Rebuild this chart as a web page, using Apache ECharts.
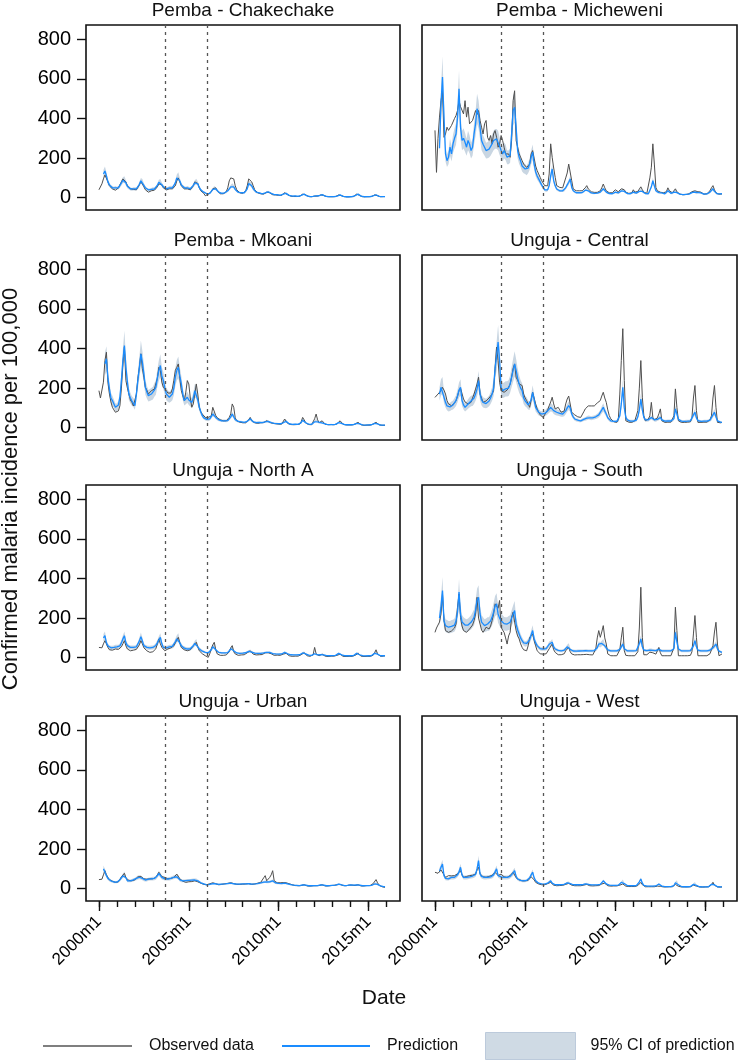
<!DOCTYPE html>
<html>
<head>
<meta charset="utf-8">
<script src="https://cdn.jsdelivr.net/npm/echarts@6/dist/echarts.min.js"></script>
<style>
html,body{margin:0;padding:0;background:#ffffff;}
#chart{width:741px;height:1061px;}
</style>
</head>
<body>
<div id="chart"></div>
<script>
// ---------------- DATA ----------------
const panelTitles = ['Pemba - Chakechake','Pemba - Micheweni','Pemba - Mkoani','Unguja - Central',
                     'Unguja - North A','Unguja - South','Unguja - Urban','Unguja - West'];
const firstYear = 2000;            // series are monthly, 2000m1 .. 2015m12
const xTickValues = [2000, 2005, 2010, 2015];
const xTickLabels = ['2000m1', '2005m1', '2010m1', '2015m1'];
const xMinorTickValues = [2000,2001,2002,2003,2004,2005,2006,2007,2008,2009,2010,2011,2012,2013,2014,2015,2016];
const yTickValues = [0, 200, 400, 600, 800];
const yTickLabels = ['0', '200', '400', '600', '800'];
const interventionDates = [2003.7, 2006.0];
const legendLabels = ['Observed data', 'Prediction', '95% CI of prediction'];
const yAxisTitle = 'Confirmed malaria incidence per 100,000';
const xAxisTitle = 'Date';
const _ = null;

// Pemba - Chakechake
const obs1 = [
40,50,70,95,115,105,80,60,50,45,40,38,
45,50,60,80,95,100,80,60,50,45,40,42,
42,40,48,65,82,78,55,40,30,28,30,35,
40,38,45,55,70,75,65,50,45,40,42,45,
50,45,48,60,85,100,80,60,50,45,42,45,
42,40,45,60,80,90,72,50,35,28,22,10,
15,18,20,30,45,55,50,35,25,20,18,20,
25,30,50,85,100,105,95,60,40,30,25,25,
22,25,35,60,95,85,80,60,40,30,25,22,
20,18,18,22,28,30,25,20,15,14,14,15,
12,10,12,18,25,22,15,10,8,7,6,8,
6,6,7,12,18,20,14,8,6,5,5,6,
8,10,8,10,14,18,12,8,6,5,5,6,
5,5,6,8,14,15,10,6,5,4,4,5,
5,5,6,10,18,20,12,7,5,5,5,5,
5,5,6,9,14,16,10,6,5,5,6,6];
const pred1 = [
_,_,_,120,135,110,80,65,55,50,48,50,
48,50,60,75,88,92,75,58,50,45,42,45,
45,45,52,68,85,80,62,50,42,40,40,42,
45,44,50,62,78,80,66,55,48,45,46,50,
52,50,55,75,100,110,85,65,55,50,48,50,
48,45,50,62,75,82,70,52,40,32,28,25,
20,20,22,30,42,50,45,35,28,24,22,22,
25,28,35,45,55,62,55,42,32,28,25,25,
25,25,30,45,72,70,60,45,35,28,25,24,
22,20,20,24,28,30,26,22,18,16,15,16,
14,12,14,18,24,22,16,12,10,8,8,9,
8,7,8,12,16,18,14,9,7,6,6,7,
8,9,8,10,13,16,12,8,6,6,6,6,
6,6,6,8,12,14,10,7,6,5,5,5,
6,6,6,10,16,18,12,8,6,5,5,6,
6,6,6,9,13,15,10,7,6,6,6,6];
const ci1 = [
_,_,_,20,23,19,14,11,9,9,8,9,
8,9,10,13,15,16,13,10,9,8,7,8,
8,8,9,12,14,14,11,9,7,7,7,7,
8,7,9,11,13,14,11,9,8,8,8,9,
9,9,9,13,17,19,14,11,9,9,8,9,
8,8,9,11,13,14,12,9,7,5,5,4,
4,4,4,5,7,9,8,6,5,4,4,4,
4,5,6,8,9,11,9,7,5,5,4,4,
4,4,5,8,12,12,10,8,6,5,4,4,
4,3,3,4,5,5,4,4,3,3,3,3,
3,3,3,3,4,4,3,3,3,3,3,3,
3,3,3,3,3,3,3,3,3,3,3,3,
3,3,3,3,3,3,3,3,3,3,3,3,
3,3,3,3,3,3,3,3,3,3,3,3,
3,3,3,3,3,3,3,3,3,3,3,3,
3,3,3,3,3,3,3,3,3,3,3,3];

// Pemba - Micheweni
const obs2 = [
340,128,300,407,490,540,305,322,356,340,330,365,
365,400,415,440,490,460,457,423,490,407,457,373,
381,390,400,440,420,440,390,356,322,373,390,305,
289,314,272,322,339,305,255,272,314,289,255,221,
230,221,204,289,490,540,289,255,221,204,187,170,
170,153,150,170,221,238,200,160,137,120,103,86,
78,61,52,60,120,272,204,150,103,61,55,52,
52,50,55,100,125,170,179,86,44,38,35,35,
35,32,35,40,50,61,45,35,30,28,27,28,
27,30,35,50,69,50,35,28,25,24,25,27,
40,30,30,35,45,55,40,28,25,22,22,25,
40,28,28,32,40,55,40,28,25,22,24,100,
154,272,170,52,35,30,28,30,25,22,30,50,
35,25,25,35,45,30,22,18,16,15,15,16,
18,20,25,30,40,35,25,30,40,28,20,18,
18,20,25,35,50,61,40,25,20,18,20,19];
const pred2 = [
_,_,_,250,474,609,407,221,187,204,255,221,
272,300,322,407,550,356,289,300,280,255,289,270,
238,255,322,373,449,420,356,289,270,255,238,240,
245,255,272,289,297,297,289,260,240,221,238,230,
204,204,213,322,440,457,356,238,205,185,160,150,
145,137,150,170,204,230,170,130,110,95,80,65,
52,40,35,40,61,110,145,86,60,44,38,35,
35,35,38,50,65,78,95,52,35,27,25,25,
25,24,26,30,38,45,35,27,24,22,22,23,
23,24,28,35,45,38,28,23,21,20,20,22,
28,24,24,28,35,42,32,24,21,20,20,21,
28,23,23,26,32,40,32,24,21,20,20,30,
55,86,60,35,28,26,24,24,22,20,24,35,
30,22,22,28,36,26,20,18,17,16,16,17,
17,18,22,26,32,28,22,26,30,24,19,18,
18,19,22,28,38,45,32,22,19,18,19,20];
const ci2 = [
_,_,_,43,81,105,70,38,32,35,43,38,
46,51,55,69,94,61,49,51,48,43,49,46,
40,43,55,63,76,71,61,49,46,43,40,41,
42,43,46,49,50,50,49,44,41,38,40,39,
35,35,36,55,75,78,61,40,35,31,27,26,
25,23,26,29,35,39,29,22,19,16,14,11,
9,7,6,7,10,19,25,15,10,7,6,6,
6,6,6,9,11,13,16,9,6,5,4,4,
4,4,4,5,6,8,6,5,4,4,4,4,
4,4,5,6,8,6,5,4,4,3,3,4,
5,4,4,5,6,7,5,4,4,3,3,4,
5,4,4,4,5,7,5,4,4,3,3,5,
9,15,10,6,5,4,4,4,4,3,4,6,
5,4,4,5,6,4,3,3,3,3,3,3,
3,3,4,4,5,5,4,4,5,4,3,3,
3,3,4,5,6,8,5,4,3,3,3,3];

// Pemba - Mkoani
const obs3 = [
187,150,140,230,340,381,230,170,130,103,90,78,
80,85,111,200,322,407,238,200,170,140,128,110,
103,170,250,305,373,300,255,204,190,170,175,187,
187,195,204,250,305,289,230,204,195,187,175,170,
175,196,240,290,305,322,250,187,160,137,180,238,
221,150,103,120,170,221,170,103,80,69,60,52,
52,52,55,60,103,111,61,50,44,40,35,35,
35,35,38,52,70,120,103,50,35,30,28,25,
25,22,25,30,40,52,35,27,25,22,22,24,
25,24,26,30,35,30,27,25,22,20,20,18,
18,17,18,25,44,35,22,18,16,15,15,16,
16,15,18,30,52,40,25,18,16,15,15,20,
45,69,40,25,30,35,25,18,16,15,15,16,
15,15,16,20,30,35,25,18,15,14,14,14,
14,14,15,18,25,27,20,15,13,12,12,13,
13,13,14,18,24,27,20,15,12,12,12,12];
const pred3 = [
_,_,_,_,322,348,250,196,150,137,120,103,
103,115,154,240,339,415,305,230,170,150,135,128,
111,170,240,305,373,330,272,204,180,162,165,170,
175,190,204,250,289,314,260,238,200,170,160,154,
160,170,200,255,290,305,260,221,170,137,145,154,
140,130,128,150,187,179,140,103,80,61,50,44,
42,40,45,55,69,65,52,45,40,38,35,35,
35,34,36,45,55,69,55,40,35,32,30,30,
28,27,28,32,40,45,35,30,28,26,26,27,
27,26,27,30,34,32,28,26,24,22,22,21,
20,20,21,25,35,32,24,20,18,17,17,18,
18,17,19,26,38,34,25,20,18,17,17,20,
30,40,30,24,26,28,22,18,17,16,16,17,
16,16,17,20,26,28,22,18,16,15,15,15,
15,15,16,18,22,24,19,16,14,13,13,14,
14,14,15,18,22,24,19,15,13,13,13,13];
const ci3 = [
_,_,_,_,58,63,45,35,27,25,22,19,
19,21,28,43,61,75,55,41,31,27,24,23,
20,31,43,55,67,59,49,37,32,29,30,31,
32,34,37,45,52,57,47,43,36,31,29,28,
29,31,36,46,52,55,47,40,31,25,26,28,
25,23,23,27,34,32,25,19,14,11,9,8,
8,7,8,10,12,12,9,8,7,7,6,6,
6,6,6,8,10,12,10,7,6,6,5,5,
5,5,5,6,7,8,6,5,5,5,5,5,
5,5,5,5,6,6,5,5,4,4,4,4,
4,4,4,4,6,6,4,4,3,3,3,3,
3,3,3,5,7,6,4,4,3,3,3,4,
5,7,5,4,5,5,4,3,3,3,3,3,
3,3,3,4,5,5,4,3,3,3,3,3,
3,3,3,3,4,4,3,3,3,3,3,3,
3,3,3,3,4,4,3,3,3,3,3,3];

// Unguja - Central
const obs4 = [
153,160,170,162,187,204,190,170,137,120,115,111,
115,125,137,160,187,200,204,145,130,120,120,128,
128,150,170,195,221,255,170,150,128,130,135,137,
150,154,170,187,300,407,339,230,187,180,179,185,
190,196,220,255,300,322,255,240,221,215,213,170,
150,137,120,103,140,179,150,120,95,78,65,55,
52,60,78,90,111,130,154,120,95,100,103,90,
78,72,85,120,145,160,170,78,70,65,61,55,
52,52,60,80,95,103,110,120,110,103,110,120,
125,130,137,160,179,150,128,90,61,45,35,30,
28,27,40,170,340,500,238,35,30,28,27,27,
30,35,45,86,200,339,154,60,35,40,44,60,
128,52,40,35,50,70,95,35,28,27,27,28,
28,28,30,60,196,103,35,28,27,27,27,28,
28,28,30,50,150,213,86,27,27,27,27,28,
28,28,30,40,60,150,213,103,27,27,25,27];
const pred4 = [
_,_,_,170,204,213,154,128,110,103,105,111,
115,125,137,160,190,204,137,115,103,110,120,128,
135,137,150,170,196,238,170,140,128,125,122,128,
135,150,170,200,300,360,432,339,204,187,190,196,
196,200,220,255,290,322,289,250,221,200,187,150,
135,128,115,111,140,179,140,103,90,78,72,69,
69,72,78,85,95,103,100,86,80,78,75,72,
70,69,72,85,100,111,100,69,55,44,40,38,
35,35,38,42,44,48,52,50,48,50,52,55,
58,65,75,90,103,85,69,50,40,35,33,32,
32,32,35,60,120,204,100,52,40,35,33,33,
33,34,38,55,90,145,90,52,40,38,40,45,
52,45,40,38,42,48,52,40,35,33,33,34,
34,34,36,45,95,70,42,35,33,32,32,33,
33,33,35,42,65,78,50,36,33,32,32,33,
33,33,34,38,45,65,78,55,35,30,28,27];
const ci4 = [
_,_,_,34,41,43,31,26,22,21,21,22,
23,25,27,32,38,41,27,23,21,22,24,26,
27,27,30,34,39,48,34,28,26,25,24,26,
27,30,34,40,60,72,86,68,41,37,38,39,
39,40,44,51,58,64,58,50,44,40,37,30,
27,26,23,22,28,36,28,21,18,16,14,14,
14,14,16,17,19,21,20,17,16,16,15,14,
14,14,14,17,20,22,20,14,11,9,8,8,
7,7,8,8,9,10,10,10,10,10,10,11,
12,13,15,18,21,17,14,10,8,7,7,6,
6,6,7,12,24,41,20,10,8,7,7,7,
7,7,8,11,18,29,18,10,8,8,8,9,
10,9,8,8,8,10,10,8,7,7,7,7,
7,7,7,9,19,14,8,7,7,6,6,7,
7,7,7,8,13,16,10,7,7,6,6,7,
7,7,7,8,9,13,16,11,7,6,6,5];

// Unguja - North A
const obs5 = [
52,44,50,70,86,70,52,40,35,38,40,44,
44,42,45,55,70,86,60,44,40,35,35,38,
40,42,50,65,86,70,50,44,35,30,27,30,
30,35,45,70,95,70,52,45,35,40,44,50,
50,52,60,75,90,103,75,52,45,40,35,35,
36,40,45,60,70,78,55,35,28,20,15,10,
8,2,20,45,65,78,40,19,15,12,10,12,
12,14,18,30,50,61,30,19,15,12,12,14,
14,15,18,25,30,35,25,18,15,14,14,15,
15,16,20,25,27,25,27,20,15,12,12,13,
12,12,14,18,27,22,15,10,8,7,7,8,
8,8,10,15,22,25,15,10,8,7,8,15,
52,20,12,10,14,18,12,8,7,6,7,8,
8,8,9,12,22,18,10,7,6,6,6,7,
7,7,8,12,20,22,12,8,6,6,6,7,
7,7,8,12,25,40,20,10,7,6,8,10];
const pred5 = [
_,_,_,100,111,75,60,52,50,50,52,55,
55,55,60,75,95,111,75,61,55,52,52,52,
52,55,65,85,106,85,61,55,52,50,50,52,
52,55,62,75,90,103,70,52,52,50,52,55,
55,57,65,80,95,103,75,61,52,48,45,44,
44,45,50,60,72,78,55,44,38,33,30,27,
25,25,30,40,55,61,40,30,27,25,24,24,
24,24,26,32,45,52,35,27,24,22,22,23,
23,23,25,28,32,35,28,25,23,22,22,22,
22,22,24,26,27,27,27,24,21,20,19,19,
18,18,19,22,27,24,20,17,15,14,14,14,
14,14,15,18,24,26,19,15,13,12,12,14,
20,16,14,13,15,18,14,12,11,10,10,11,
11,11,12,14,22,20,14,11,10,10,10,10,
10,10,11,14,22,24,15,11,10,9,9,10,
10,10,11,14,22,30,18,12,10,9,10,10];
const ci5 = [
_,_,_,20,22,15,12,10,10,10,10,11,
11,11,12,15,19,22,15,12,11,10,10,10,
10,11,13,17,21,17,12,11,10,10,10,10,
10,11,12,15,18,21,14,10,10,10,10,11,
11,11,13,16,19,21,15,12,10,10,9,9,
9,9,10,12,14,16,11,9,8,7,6,5,
5,5,6,8,11,12,8,6,5,5,5,5,
5,5,5,6,9,10,7,5,5,4,4,5,
5,5,5,6,6,7,6,5,5,4,4,4,
4,4,5,5,5,5,5,5,4,4,4,4,
4,4,4,4,5,5,4,3,3,3,3,3,
3,3,3,4,5,5,4,3,3,3,3,3,
4,3,3,3,3,4,3,3,3,3,3,3,
3,3,3,3,4,4,3,3,3,3,3,3,
3,3,3,3,4,5,3,3,3,3,3,3,
3,3,3,3,4,6,4,3,3,3,3,3];

// Unguja - South
const obs6 = [
128,150,165,180,221,322,187,137,130,128,130,135,
137,150,170,255,322,204,160,137,130,128,135,145,
154,165,187,220,305,200,170,140,128,140,154,150,
145,160,187,220,272,272,250,289,154,140,128,100,
69,110,128,204,230,180,137,110,95,70,52,40,
35,35,60,103,110,120,86,60,35,25,20,19,
18,19,20,30,45,55,69,40,27,20,15,15,
15,16,20,35,45,52,30,19,15,14,14,15,
15,15,15,16,18,17,15,15,14,14,15,44,
100,137,103,130,162,100,69,19,12,10,10,10,
10,10,12,40,100,154,35,12,10,10,10,10,
10,10,12,30,150,356,103,15,10,15,20,28,
35,25,15,18,35,52,25,10,10,10,10,10,
10,10,12,50,255,137,10,10,10,10,10,10,
10,10,12,30,120,213,103,10,10,10,10,10,
10,10,12,20,25,60,130,179,69,10,10,19];
const pred6 = [
_,_,_,200,255,339,187,162,158,154,155,158,
160,165,185,230,331,221,180,170,165,162,165,172,
179,190,204,240,290,305,221,180,170,162,165,170,
170,185,204,230,260,272,221,200,187,180,172,170,
170,175,179,200,220,238,170,140,120,100,86,75,
69,72,80,90,115,137,95,75,61,52,46,44,
44,44,46,55,68,70,78,55,44,40,37,35,
35,35,38,45,55,61,42,35,34,33,33,34,
34,34,35,35,36,36,35,35,35,35,36,39,
50,69,65,72,78,60,52,40,36,35,35,35,
35,35,36,42,55,69,45,36,35,35,35,35,
35,35,36,45,70,95,55,39,36,36,37,38,
38,37,36,36,38,42,37,35,35,35,35,35,
35,35,36,45,128,80,44,37,35,35,35,35,
35,35,36,42,60,86,55,38,35,35,35,35,
35,35,35,38,45,50,58,69,45,33,30,27];
const ci6 = [
_,_,_,40,51,68,37,32,32,31,31,32,
32,33,37,46,66,44,36,34,33,32,33,34,
36,38,41,48,58,61,44,36,34,32,33,34,
34,37,41,46,52,54,44,40,37,36,34,34,
34,35,36,40,44,48,34,28,24,20,17,15,
14,14,16,18,23,27,19,15,12,10,9,9,
9,9,9,11,14,14,16,11,9,8,7,7,
7,7,8,9,11,12,8,7,7,7,7,7,
7,7,7,7,7,7,7,7,7,7,7,8,
10,14,13,14,16,12,10,8,7,7,7,7,
7,7,7,8,11,14,9,7,7,7,7,7,
7,7,7,9,14,19,11,8,7,7,7,8,
8,7,7,7,8,8,7,7,7,7,7,7,
7,7,7,9,26,16,9,7,7,7,7,7,
7,7,7,8,12,17,11,8,7,7,7,7,
7,7,7,8,9,10,12,14,9,7,6,5];

// Unguja - Urban
const obs7 = [
46,46,48,70,91,70,57,45,40,38,35,32,
32,35,45,60,70,78,55,49,42,40,40,42,
45,50,60,66,62,57,50,44,48,54,50,49,
50,55,57,70,83,75,61,58,57,55,50,49,
52,55,57,65,74,65,50,44,38,32,32,35,
35,35,36,38,40,40,35,32,28,25,22,20,
20,22,25,28,30,29,25,22,20,20,22,24,
25,26,27,29,30,29,26,24,22,22,22,23,
23,23,24,25,26,24,22,22,24,26,28,30,
32,40,55,66,40,45,57,70,91,40,32,30,
30,30,30,31,32,30,27,25,22,20,18,16,
16,15,15,16,18,20,16,14,13,13,14,15,
15,15,15,16,18,20,16,14,14,14,15,16,
16,17,18,20,24,22,18,16,15,15,16,18,
20,18,17,16,18,20,16,14,14,14,15,16,
16,16,18,25,35,46,30,18,12,10,8,7];
const pred7 = [
_,_,_,100,85,66,52,45,40,36,34,32,
33,36,45,55,65,74,55,40,40,40,42,45,
48,52,57,58,57,52,46,44,45,48,49,50,
51,52,54,65,78,68,57,53,50,49,49,50,
52,55,58,61,60,57,45,40,40,40,41,42,
42,42,43,44,44,44,40,35,30,27,24,21,
20,21,22,24,26,27,25,23,22,22,23,24,
24,25,26,27,28,27,25,24,23,23,23,24,
24,24,24,25,25,24,23,23,24,25,26,28,
29,31,33,36,34,33,35,38,40,33,29,27,
27,26,26,27,28,27,25,23,21,19,18,17,
17,16,16,17,19,20,18,16,15,15,15,16,
16,16,16,17,19,20,18,16,15,15,16,17,
17,17,18,20,23,22,19,17,16,16,17,18,
19,18,18,18,19,20,18,16,15,15,16,16,
16,16,17,20,24,28,22,17,14,12,11,10];
const ci7 = [
_,_,_,17,14,11,9,8,7,6,6,5,
6,6,8,9,11,13,9,7,7,7,7,8,
8,9,10,10,10,9,8,7,8,8,8,9,
9,9,9,11,13,12,10,9,9,8,8,9,
9,9,10,10,10,10,8,7,7,7,7,7,
7,7,7,7,7,7,7,6,5,5,4,4,
4,4,4,4,4,5,4,4,4,4,4,4,
4,4,4,5,5,5,4,4,4,4,4,4,
4,4,4,4,4,4,4,4,4,4,4,5,
5,5,6,6,6,6,6,6,7,6,5,5,
5,4,4,5,5,5,4,4,4,3,3,3,
3,3,3,3,3,3,3,3,3,3,3,3,
3,3,3,3,3,3,3,3,3,3,3,3,
3,3,3,3,4,4,3,3,3,3,3,3,
3,3,3,3,3,3,3,3,3,3,3,3,
3,3,3,3,4,5,4,3,3,3,3,3];

// Unguja - West
const obs8 = [
83,80,78,85,95,100,70,57,60,66,66,65,
66,66,68,75,85,91,70,57,60,62,66,66,
66,68,70,74,95,108,75,66,60,57,58,60,
62,66,68,75,83,80,66,68,74,66,60,57,
57,60,66,75,83,75,55,49,45,42,40,40,
40,40,42,50,60,66,45,32,28,24,22,20,
20,20,22,26,30,32,25,18,15,15,15,16,
16,17,18,22,26,27,22,18,15,15,15,15,
15,15,16,18,20,22,18,15,14,14,15,15,
15,16,18,24,32,28,20,15,14,13,13,14,
14,14,15,18,22,24,18,13,12,11,11,11,
11,11,12,16,25,32,20,12,10,10,10,10,
10,10,10,11,13,15,12,10,9,9,9,10,
10,10,10,12,22,18,12,10,9,9,9,9,
9,9,10,12,18,20,13,10,9,8,8,9,
9,9,10,12,20,32,18,11,9,8,8,9];
const pred8 = [
_,_,_,90,108,125,66,52,49,50,54,57,
57,58,62,70,85,108,70,57,57,57,58,60,
62,64,66,72,100,142,74,62,58,57,57,58,
58,60,62,70,85,100,66,62,60,57,57,57,
57,58,62,70,80,91,62,49,45,42,40,40,
40,42,45,55,70,83,55,40,33,28,25,24,
23,23,24,28,34,40,28,22,20,20,20,20,
20,21,22,25,30,32,26,22,20,20,20,20,
20,20,20,22,24,26,22,20,19,19,19,19,
19,20,22,28,40,32,24,20,18,17,17,17,
17,17,18,22,32,40,26,18,16,15,15,15,
15,15,16,22,35,49,28,17,14,13,13,13,
13,13,13,14,18,24,17,13,12,11,11,11,
11,11,12,16,30,37,20,13,11,10,10,10,
10,10,11,14,22,29,17,12,10,9,9,9,
9,9,10,13,22,32,20,12,10,9,9,9];
const ci8 = [
_,_,_,15,18,21,11,9,8,9,9,10,
10,10,11,12,14,18,12,10,10,10,10,10,
11,11,11,12,17,24,13,11,10,10,10,10,
10,10,11,12,14,17,11,11,10,10,10,10,
10,10,11,12,14,15,11,8,8,7,7,7,
7,7,8,9,12,14,9,7,6,5,4,4,
4,4,4,5,6,7,5,4,3,3,3,3,
3,4,4,4,5,5,4,4,3,3,3,3,
3,3,3,4,4,4,4,3,3,3,3,3,
3,3,4,5,7,5,4,3,3,3,3,3,
3,3,3,4,5,7,4,3,3,3,3,3,
3,3,3,4,6,8,5,3,3,3,3,3,
3,3,3,3,3,4,3,3,3,3,3,3,
3,3,3,3,5,6,3,3,3,3,3,3,
3,3,3,3,4,5,3,3,3,3,3,3,
3,3,3,3,4,5,3,3,3,3,3,3];

const observedSeries = [obs1, obs2, obs3, obs4, obs5, obs6, obs7, obs8];
const predictedSeries = [pred1, pred2, pred3, pred4, pred5, pred6, pred7, pred8];
const ciHalfWidth = [ci1, ci2, ci3, ci4, ci5, ci6, ci7, ci8];

// ---------------- LAYOUT / STYLE ----------------
const FONT = "'Liberation Sans', Arial, Helvetica, sans-serif";
const COL_LEFT = [86, 422], COL_WIDTH = [314, 315];
const ROW_TOP = [25, 255, 485, 716], PANEL_H = 185;
const Y_MIN = -62, Y_MAX = 872, X_MIN = 1999.28, X_MAX = 2016.75;
const OBS_COLOR = '#4f4f4f', PRED_COLOR = '#1a8cff', CI_COLOR = '#c9d6e2';

[observedSeries, predictedSeries, ciHalfWidth].forEach((group, g) => group.forEach((a, k) => {
  if (a.length !== 192) throw new Error('array ' + g + '/' + k + ' has length ' + a.length);
}));

const monthX = i => firstYear + i / 12;

const grids = [], xAxes = [], yAxes = [], series = [], graphics = [];
for (let p = 0; p < 8; p++) {
  const row = Math.floor(p / 2), col = p % 2;
  const bottomRow = row === 3, leftCol = col === 0;
  grids.push({
    left: COL_LEFT[col], top: ROW_TOP[row], width: COL_WIDTH[col], height: PANEL_H,
    show: true, borderColor: '#111', borderWidth: 1.6, backgroundColor: 'transparent',
    containLabel: false, outerBoundsMode: 'none'
  });
  xAxes.push({
    gridIndex: p, type: 'value', min: X_MIN, max: X_MAX, position: 'bottom',
    axisLine: { show: false, onZero: false }, splitLine: { show: false },
    axisTick: bottomRow ? { show: true, customValues: xTickValues, length: 10, lineStyle: { color: '#111', width: 1.4 } } : { show: false },
    axisLabel: bottomRow ? {
      show: true, customValues: xTickValues, rotate: 45, margin: 18,
      fontSize: 17, fontFamily: FONT, color: '#000',
      formatter: v => xTickLabels[xTickValues.indexOf(Math.round(v))] || ''
    } : { show: false }
  });
  yAxes.push({
    gridIndex: p, type: 'value', min: Y_MIN, max: Y_MAX,
    axisLine: { show: false, onZero: false }, splitLine: { show: false },
    axisTick: leftCol ? { show: true, customValues: yTickValues, length: 9, lineStyle: { color: '#111', width: 1.4 } } : { show: false },
    axisLabel: leftCol ? {
      show: true, customValues: yTickValues, margin: 15, fontSize: 20, fontFamily: FONT, color: '#000',
      formatter: v => yTickLabels[yTickValues.indexOf(Math.round(v))] || ''
    } : { show: false }
  });

  const obs = observedSeries[p], pred = predictedSeries[p], ci = ciHalfWidth[p];
  const firstValid = pred.findIndex(v => v != null);
  // 95% CI band: one polygon through the library's coordinate mapping
  series.push({
    type: 'custom', name: legendLabels[2], coordinateSystem: 'cartesian2d',
    xAxisIndex: p, yAxisIndex: p, silent: true, z: 1,
    color: CI_COLOR, itemStyle: { color: CI_COLOR },
    data: pred.map((v, i) => [monthX(i), v == null ? null : v - ci[i], v == null ? null : v + ci[i]]),
    encode: { x: 0, y: [1, 2] },
    renderItem: function (params, api) {
      if (params.dataIndex !== firstValid) return null;
      const upper = [], lower = [];
      for (let i = firstValid; i < pred.length; i++) {
        if (pred[i] == null) continue;
        upper.push(api.coord([monthX(i), pred[i] + ci[i]]));
        lower.push(api.coord([monthX(i), pred[i] - ci[i]]));
      }
      return {
        type: 'polygon',
        shape: { points: upper.concat(lower.reverse()) },
        style: { fill: CI_COLOR, stroke: null }
      };
    }
  });
  series.push({
    type: 'line', name: legendLabels[0], xAxisIndex: p, yAxisIndex: p,
    data: obs.map((v, i) => [monthX(i), v]),
    symbol: 'none', showSymbol: false, color: OBS_COLOR,
    lineStyle: { color: OBS_COLOR, width: 1 }, z: 3,
    markLine: {
      silent: true, symbol: ['none', 'none'], label: { show: false },
      lineStyle: { type: [3, 4], color: '#555', width: 1.3 },
      data: interventionDates.map(d => ({ xAxis: d }))
    }
  });
  series.push({
    type: 'line', name: legendLabels[1], xAxisIndex: p, yAxisIndex: p,
    data: pred.map((v, i) => [monthX(i), v]),
    symbol: 'none', showSymbol: false, color: PRED_COLOR,
    lineStyle: { color: PRED_COLOR, width: 1.3 }, z: 4
  });

  graphics.push({
    type: 'text', x: COL_LEFT[col] + COL_WIDTH[col] / 2, y: ROW_TOP[row] - 14,
    style: { text: panelTitles[p], fontSize: 19, fontFamily: FONT, fill: '#111', align: 'center', verticalAlign: 'middle' }
  });
}
// minor (yearly) ticks on the bottom row
[6, 7].forEach(p => {
  xAxes.push({
    gridIndex: p, type: 'value', min: X_MIN, max: X_MAX, position: 'bottom',
    axisLine: { show: false, onZero: false }, splitLine: { show: false },
    axisTick: { show: true, customValues: xMinorTickValues, length: 6, lineStyle: { color: '#111', width: 1.4 } },
    axisLabel: { show: false }
  });
});

graphics.push({
  type: 'text', x: 11, y: 489, rotation: Math.PI / 2,
  style: { text: yAxisTitle, fontSize: 22, fontFamily: FONT, fill: '#111', align: 'center', verticalAlign: 'middle' }
});
graphics.push({
  type: 'text', x: 384, y: 998,
  style: { text: xAxisTitle, fontSize: 21, fontFamily: FONT, fill: '#111', align: 'center', verticalAlign: 'middle' }
});

const legendBase = { show: true, orient: 'horizontal', padding: 0, selectedMode: false, icon: 'rect' };
const chart = echarts.init(document.getElementById('chart'), null, { renderer: 'canvas', width: 741, height: 1061 });
chart.setOption({
  backgroundColor: '#ffffff',
  animation: false,
  grid: grids,
  xAxis: xAxes,
  yAxis: yAxes,
  series: series,
  graphic: graphics,
  legend: [
    Object.assign({}, legendBase, {
      left: 43, top: 1038, itemWidth: 89, itemHeight: 2,
      textStyle: { fontSize: 16, fontFamily: FONT, color: '#111', padding: [0, 0, 0, 12] },
      data: [{ name: legendLabels[0], icon: 'rect', itemStyle: { color: '#7f7f7f' } }]
    }),
    Object.assign({}, legendBase, {
      left: 282, top: 1038, itemWidth: 88, itemHeight: 2,
      textStyle: { fontSize: 16, fontFamily: FONT, color: '#111', padding: [0, 0, 0, 12] },
      data: [{ name: legendLabels[1], icon: 'rect', itemStyle: { color: PRED_COLOR } }]
    }),
    Object.assign({}, legendBase, {
      left: 485, top: 1032, itemWidth: 90, itemHeight: 27, width: 256,
      textStyle: { fontSize: 16, fontFamily: FONT, color: '#111', padding: [0, 0, 0, 10] },
      data: [{ name: legendLabels[2], icon: 'rect', itemStyle: { color: '#cfdae4', borderColor: '#bccadb', borderWidth: 1 } }]
    })
  ]
});
</script>
</body>
</html>
